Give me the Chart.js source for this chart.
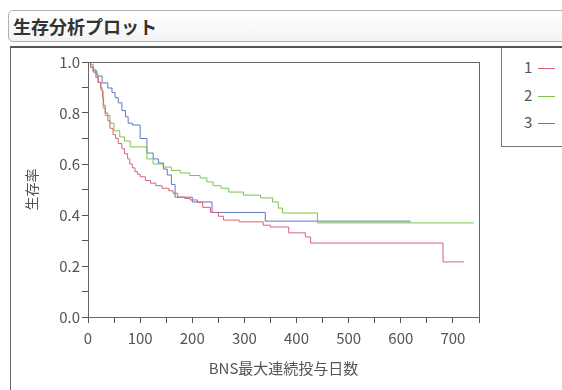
<!DOCTYPE html>
<html lang="ja">
<head>
<meta charset="UTF-8">
<title>生存分析プロット</title>
<script src="https://cdn.jsdelivr.net/npm/chart.js"></script>
<style>
    body {
        margin: 0;
        width: 562px;
        height: 390px;
        overflow: hidden;
        background: #fff;
        font-family: 'Noto Sans CJK JP', sans-serif;
        position: relative;
    }
    #title {
        position: absolute;
        left: 8px;
        top: 10px;
        width: 580px;
        height: 32px;
        border: 1px solid #b0b0b0;
        border-radius: 5px;
        background: linear-gradient(#ffffff, #f3f3f3);
        font-weight: bold;
        font-size: 18px;
        line-height: 30px;
        color: #333;
        padding-left: 4px;
        box-sizing: border-box;
    }
    #panel {
        position: absolute;
        left: 10px;
        top: 46px;
        width: 560px;
        height: 350px;
        border-left: 1px solid #666;
        border-top: 2px solid #555;
    }
    #legendBox {
        position: absolute;
        left: 501px;
        top: 48px;
        width: 70px;
        height: 98px;
        border-left: 1px solid #777;
        border-bottom: 1px solid #777;
    }
    .item {
        position: absolute;
        left: 22px;
        font-size: 15px;
        color: #555;
        line-height: 18px;
    }
    .item span {
        display: inline-block;
        width: 17px;
        height: 1px;
        vertical-align: middle;
        margin-left: 6px;
    }
    #chartWrap {
        position: absolute;
        left: 11px;
        top: 48px;
        width: 490px;
        height: 342px;
    }
</style>
</head>
<body>
<div id="title">生存分析プロット</div>
<div id="panel"></div>
<div id="legendBox">
    <div class="item" style="top:10px">1<span style="background:#d9607a"></span></div>
    <div class="item" style="top:38px">2<span style="background:#7cc24e"></span></div>
    <div class="item" style="top:65px">3<span style="background:#5c78c4"></span></div>
</div>
<div id="chartWrap"><canvas id="chart"></canvas></div>

<script>
    const groupLabels = ['1', '2', '3'];
    const groupColors = ['#d9607a', '#7cc24e', '#5c78c4'];

    // group 1 (red)
    const days1 = [0, 5, 10, 15, 20, 25, 28, 30, 33, 38, 42, 48, 53, 58, 65, 70, 76, 80, 85, 90, 95, 100, 110, 120, 130, 142, 155, 163, 172, 185, 196, 210, 220, 235, 250, 260, 290, 336, 350, 385, 417, 427, 681, 721];
    const surv1 = [1.0, 0.98, 0.96, 0.94, 0.92, 0.89, 0.86, 0.83, 0.80, 0.77, 0.74, 0.715, 0.70, 0.68, 0.66, 0.64, 0.62, 0.60, 0.585, 0.57, 0.56, 0.55, 0.535, 0.525, 0.515, 0.505, 0.495, 0.485, 0.47, 0.465, 0.459, 0.45, 0.43, 0.41, 0.395, 0.38, 0.373, 0.36, 0.353, 0.33, 0.314, 0.29, 0.216, 0.216];

    // group 2 (green)
    const days2 = [0, 5, 10, 15, 19, 24, 27, 29, 33, 42, 50, 61, 70, 81, 113, 125, 144, 160, 177, 195, 215, 228, 240, 255, 270, 298, 331, 354, 365, 373, 440, 740];
    const surv2 = [1.0, 0.99, 0.97, 0.955, 0.92, 0.90, 0.886, 0.82, 0.79, 0.76, 0.73, 0.706, 0.69, 0.667, 0.62, 0.60, 0.588, 0.575, 0.565, 0.555, 0.545, 0.53, 0.515, 0.505, 0.49, 0.478, 0.467, 0.451, 0.427, 0.408, 0.369, 0.369];

    // group 3 (blue)
    const days3 = [0, 5, 10, 17, 27, 38, 46, 52, 58, 65, 72, 77, 85, 100, 113, 125, 135, 145, 152, 160, 167, 200, 238, 340, 619];
    const surv3 = [1.0, 0.98, 0.965, 0.945, 0.918, 0.898, 0.88, 0.86, 0.84, 0.81, 0.785, 0.76, 0.753, 0.70, 0.643, 0.62, 0.604, 0.58, 0.557, 0.52, 0.47, 0.451, 0.41, 0.376, 0.376];

    const yTicks = [0, 0.1, 0.2, 0.3, 0.4, 0.5, 0.6, 0.7, 0.8, 0.9, 1.0];
    const xTicks = [0, 50, 100, 150, 200, 250, 300, 350, 400, 450, 500, 550, 600, 650, 700, 750];

    const allDays = [days1, days2, days3];
    const allSurv = [surv1, surv2, surv3];

    const datasets = groupLabels.map((lab, i) => ({
        label: lab,
        data: allDays[i].map((d, j) => ({ x: d, y: allSurv[i][j] })),
        borderColor: groupColors[i],
        borderWidth: 1,
        pointRadius: 0,
        stepped: true,
        fill: false
    }));

    const frame = {
        id: 'frame',
        afterDraw(chart) {
            const a = chart.chartArea;
            const ctx = chart.ctx;
            ctx.save();
            ctx.strokeStyle = '#666';
            ctx.lineWidth = 1;
            ctx.strokeRect(a.left + 0.5, a.top + 0.5, a.right - a.left, a.bottom - a.top);
            ctx.restore();
        }
    };

    const tickFont = { family: "'Noto Sans CJK JP', sans-serif", size: 15 };

    new Chart(document.getElementById('chart'), {
        type: 'line',
        data: { datasets: datasets },
        plugins: [frame],
        options: {
            responsive: true,
            maintainAspectRatio: false,
            animation: false,
            layout: { padding: { top: 14, right: 22, left: 0, bottom: 0 } },
            plugins: {
                legend: { display: false },
                tooltip: { enabled: false }
            },
            scales: {
                x: {
                    type: 'linear',
                    min: 0,
                    max: 750,
                    afterBuildTicks: s => { s.ticks = xTicks.map(v => ({ value: v })); },
                    afterFit: s => { s.height = 73; },
                    ticks: {
                        color: '#555',
                        font: tickFont,
                        padding: 6,
                        maxRotation: 0,
                        autoSkip: false,
                        callback: v => (v % 100 === 0 ? String(v) : '')
                    },
                    grid: { drawOnChartArea: false, drawTicks: true, tickLength: 6, color: '#555' },
                    border: { color: '#555' },
                    title: {
                        display: true,
                        text: 'BNS最大連続投与日数',
                        color: '#555',
                        font: { family: "'Noto Sans CJK JP', sans-serif", size: 15 },
                        padding: { top: 0, bottom: 13 }
                    }
                },
                y: {
                    min: 0,
                    max: 1,
                    afterBuildTicks: s => { s.ticks = yTicks.map(v => ({ value: v })); },
                    afterFit: s => { s.width = 77; },
                    ticks: {
                        color: '#555',
                        font: tickFont,
                        padding: 2,
                        autoSkip: false,
                        callback: v => (Math.round(v * 10) % 2 === 0 ? v.toFixed(1) : '')
                    },
                    grid: { drawOnChartArea: false, drawTicks: true, tickLength: 6, color: '#555' },
                    border: { color: '#555' },
                    title: {
                        display: true,
                        text: '生存率',
                        color: '#555',
                        font: { family: "'Noto Sans CJK JP', sans-serif", size: 14 },
                        padding: { top: 12, bottom: 0 }
                    }
                }
            }
        }
    });
</script>
</body>
</html>
